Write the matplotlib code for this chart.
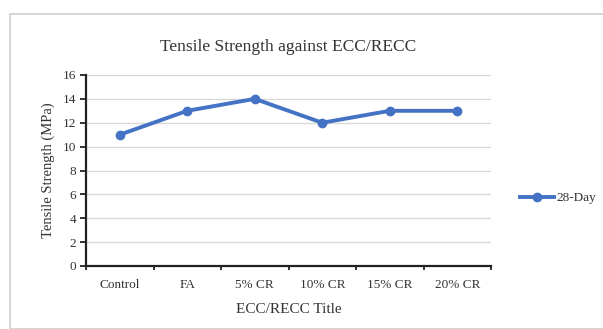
import matplotlib
matplotlib.use("Agg")
import matplotlib.pyplot as plt
from matplotlib.patches import Rectangle

categories = ["Control", "FA", "5% CR", "10% CR", "15% CR", "20% CR"]
values_28day = [11, 13, 14, 12, 13, 13]
series_name = "28-Day"
yticks = [0, 2, 4, 6, 8, 10, 12, 14, 16]

plt.rcParams['font.family'] = ['Liberation Serif', 'DejaVu Serif']

W, H = 603, 329
fig = plt.figure(figsize=(W/100, H/100), dpi=100)
fig.patch.set_facecolor('white')
fig.add_artist(Rectangle((10/W, 0.0), 1.0, 1 - 14/H, transform=fig.transFigure,
                         fill=False, edgecolor='#d0d0d0', linewidth=1.2))

ax = fig.add_axes([86/W, 1 - 266/H, (491-86)/W, (266-75)/H])
x = list(range(len(categories)))
ax.plot(x, values_28day, color='#4472C4', linewidth=2.8, marker='o', markersize=6,
        label=series_name, zorder=3)
ax.set_xlim(-0.5, len(categories) - 0.5)
ax.set_ylim(0, 16)
ax.set_yticks(yticks)
ax.set_xticks(x)
ax.set_xticklabels(categories)
ax.set_xticks([i - 0.5 for i in range(len(categories) + 1)], minor=True)
ax.tick_params(axis='x', which='major', length=0, labelsize=9.5, pad=9, colors='#333333')
ax.tick_params(axis='x', which='minor', length=3, direction='out', width=1.3, color='#222222')
ax.tick_params(axis='y', length=4, width=1.3, labelsize=9.5, color='#222222', labelcolor='#333333', pad=3)
ax.grid(axis='y', color='#d9d9d9', linewidth=1.0)
ax.set_axisbelow(True)
for s in ['top', 'right']:
    ax.spines[s].set_visible(False)
for s in ['left', 'bottom']:
    ax.spines[s].set_linewidth(1.6)
    ax.spines[s].set_color('#222222')

ax.set_title("Tensile Strength against ECC/RECC", fontsize=12.5, color='#333333', pad=17.5)
ax.set_ylabel("Tensile Strength (MPa)", fontsize=10.5, color='#333333', labelpad=6)
ax.set_xlabel("ECC/RECC Title", fontsize=11, color='#333333', labelpad=9)

fig.legend(loc='center left', bbox_to_anchor=(508/W, 1 - 198/H), frameon=False,
           fontsize=9.5, handlelength=2.6, handletextpad=0.2, labelcolor='#333333')

fig.savefig("out.png", dpi=100)
